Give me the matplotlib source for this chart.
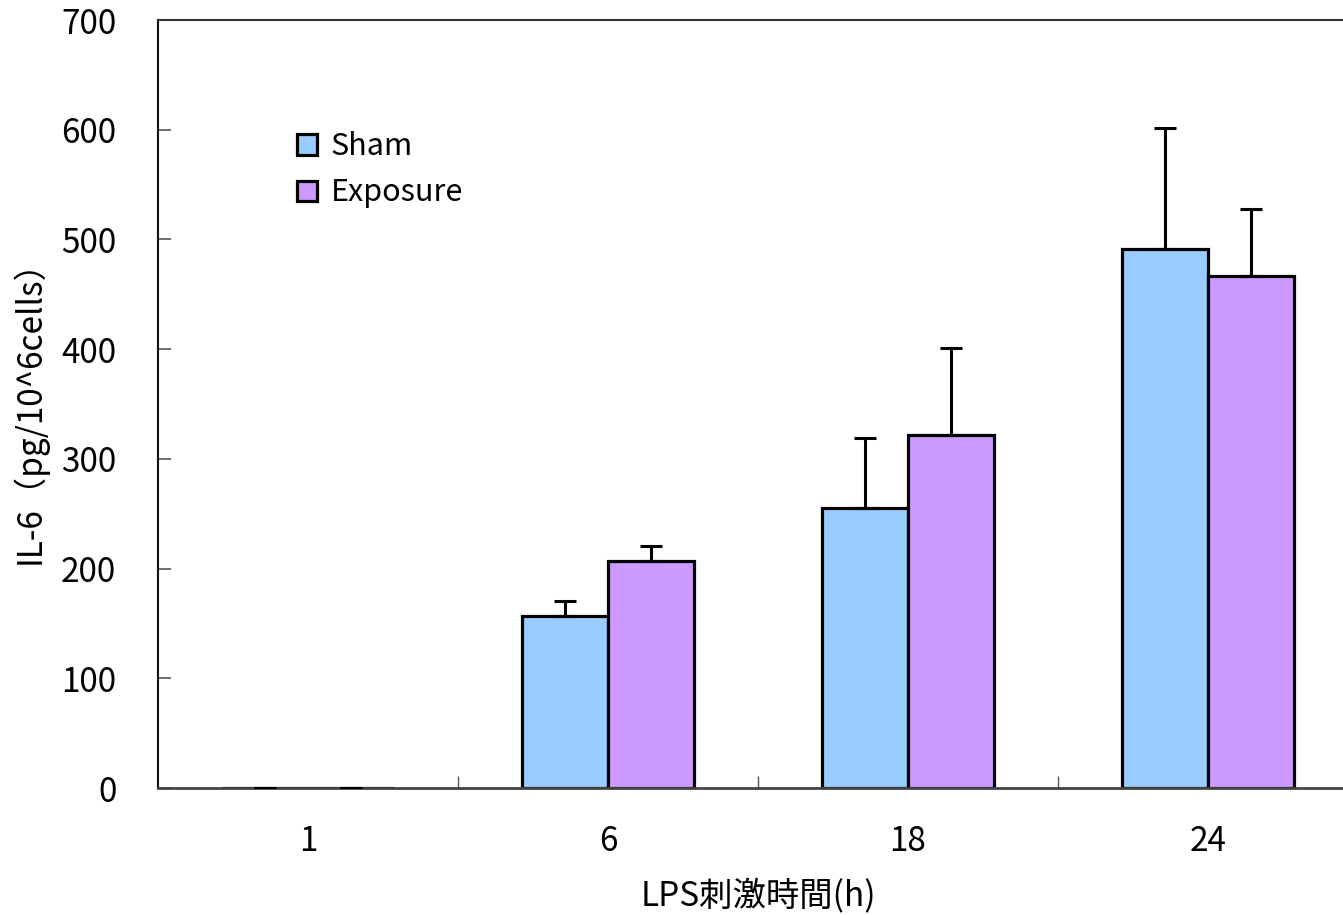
import numpy as np
import matplotlib.pyplot as plt

plt.rcParams['font.family'] = ['Noto Sans CJK JP', 'DejaVu Sans']

# LPS stimulation time groups
times = ['1', '6', '18', '24']

# IL-6 mean values and upper SD
sham = [0, 157, 255, 491]
sham_err = [0, 13, 64, 111]
exposure = [0, 207, 322, 467]
exposure_err = [0, 14, 79, 61]

sham_color = '#99CCFF'
exp_color = '#CC99FF'

x = np.arange(len(times))
w = 0.287

fig = plt.figure(figsize=(13.43, 9.15), dpi=100)
ax = fig.add_axes([158 / 1343, 1 - 788 / 915, 1200 / 1343, 768 / 915])

ax.bar(x - w / 2, sham, w, color=sham_color, edgecolor='black', linewidth=2.3, label='Sham', zorder=2)
ax.bar(x + w / 2, exposure, w, color=exp_color, edgecolor='black', linewidth=2.3, label='Exposure', zorder=2)

# upward error bars only
ax.errorbar(x - w / 2, sham, yerr=[np.zeros(len(sham)), sham_err], fmt='none',
            ecolor='black', elinewidth=2.2, capsize=8, capthick=2.2, zorder=3)
ax.errorbar(x + w / 2, exposure, yerr=[np.zeros(len(exposure)), exposure_err], fmt='none',
            ecolor='black', elinewidth=2.2, capsize=8, capthick=2.2, zorder=3)

ax.set_xlim(-0.5, 3.5)
ax.set_ylim(0, 700)
ax.set_yticks(np.arange(0, 701, 100))
ax.set_xticks(x)
ax.set_xticklabels(times)
ax.set_xticks(np.arange(0.5, 3.5, 1), minor=True)

ax.tick_params(axis='y', direction='in', length=9, width=1.2, color='#555555', labelsize=24, pad=30)
ax.tick_params(axis='x', which='major', length=0, labelsize=24, pad=26)
ax.tick_params(axis='x', which='minor', direction='in', length=9, width=1, color='#555555')

ax.spines['right'].set_visible(False)
ax.spines['top'].set_linewidth(1.5)
ax.spines['top'].set_color('#333333')
ax.spines['left'].set_linewidth(1.5)
ax.spines['left'].set_color('#111111')
ax.spines['bottom'].set_linewidth(2)
ax.spines['bottom'].set_color('#444444')

ax.set_xlabel('LPS刺激時間(h)', fontsize=24, labelpad=14)
ax.set_ylabel('IL-6（pg/10^6cells）', fontsize=24, labelpad=10)

leg = ax.legend(loc='upper left', bbox_to_anchor=(0.093, 0.891), frameon=False, fontsize=22,
                handlelength=0.65, handleheight=0.65, handletextpad=0.45, labelspacing=0.5)
for h in leg.legend_handles:
    h.set_linewidth(2.3)

fig.savefig('out.png', dpi=100)
